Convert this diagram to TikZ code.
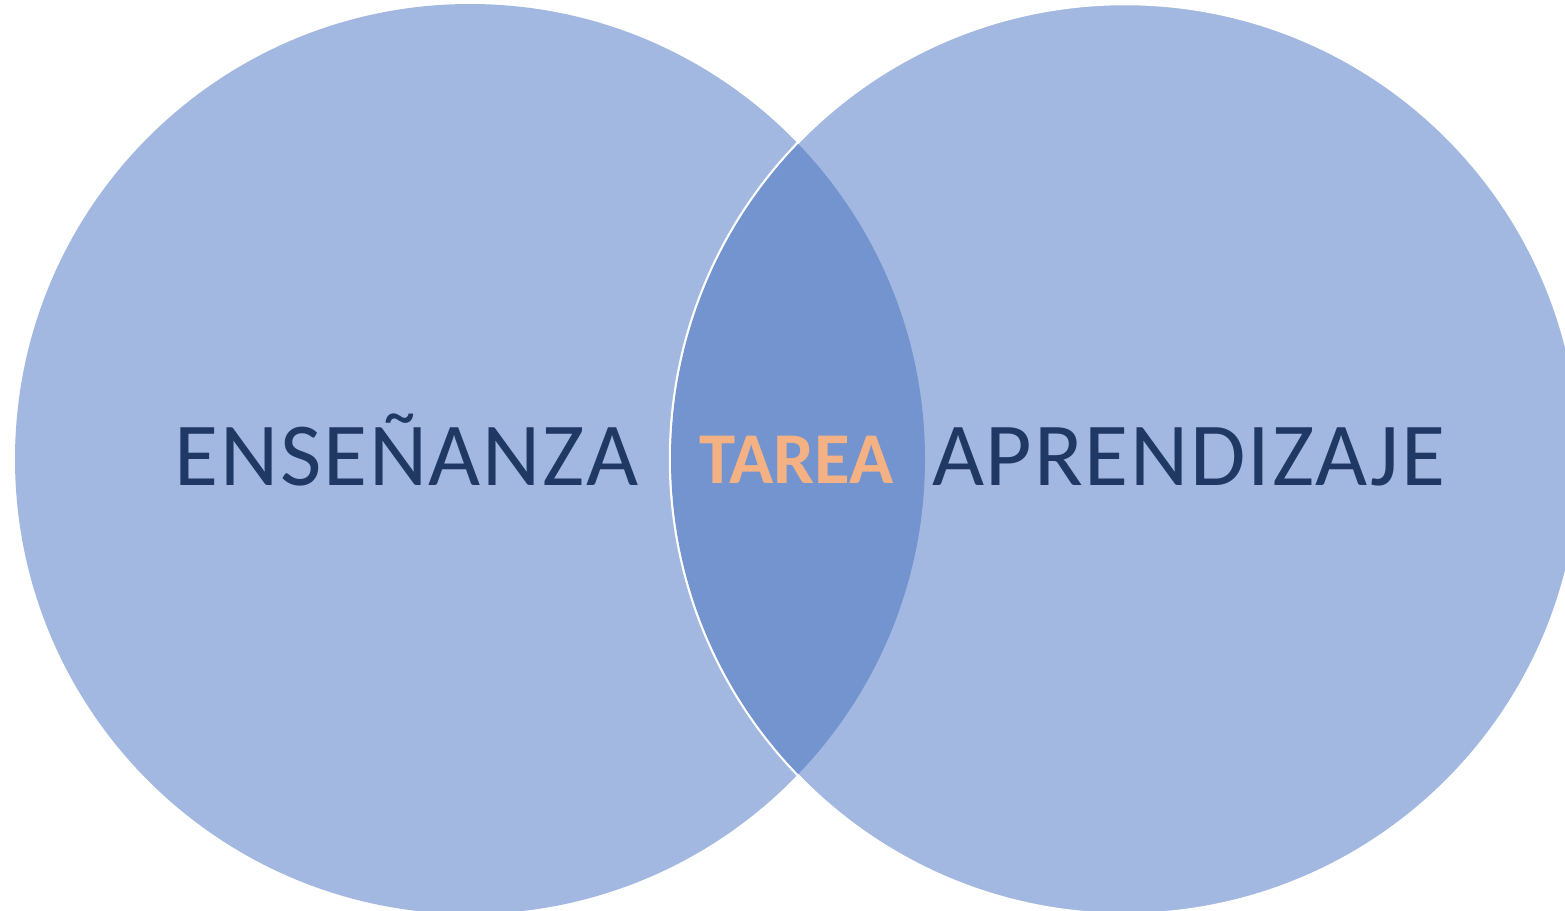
\documentclass[tikz,border=0pt]{standalone}
\usepackage{fontspec}
\setmainfont{Carlito}
\definecolor{circ}{HTML}{A2B8E0}
\definecolor{lens}{HTML}{7394CF}
\definecolor{navy}{HTML}{1F3864}
\definecolor{orng}{HTML}{F4B183}
\tikzset{
  lbl/.style={text=navy, font=\fontsize{90}{90}\selectfont\addfontfeatures{LetterSpace=2}, inner sep=0pt, anchor=base},
  mid/.style={text=orng, font=\fontsize{73}{73}\selectfont\bfseries, inner sep=0pt, anchor=base}
}
\begin{document}
\begin{tikzpicture}[x=1pt,y=-1pt]
\useasboundingbox (0,0) rectangle (1565,910);
\clip (0,0) rectangle (1565,910);
\fill[circ] (470,459) circle[radius=455];
\filldraw[fill=circ, draw=white, line width=2.5pt] (1125,459) circle[radius=455];
\begin{scope}
  \clip (470,459) circle[radius=455];
  \fill[lens] (1125,459) circle[radius=454];
\end{scope}
\node[lbl] (ens) at (406.5,485) {ENSEÑANZA};
\node[lbl] (apr) at (1188.5,485) {APRENDIZAJE};
\node[mid] (tar) at (796.5,483) {TAREA};
\end{tikzpicture}
\end{document}
